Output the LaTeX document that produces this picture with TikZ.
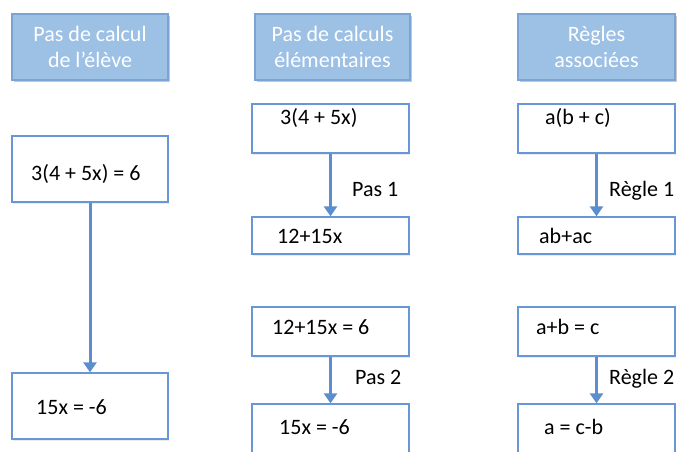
\documentclass[tikz,border=0pt]{standalone}
\usepackage{fontspec}
\setmainfont{Carlito}
\usetikzlibrary{arrows.meta,shadows}
\definecolor{hdrfill}{HTML}{9DC0E5}
\definecolor{hdrline}{HTML}{7BA3D6}
\definecolor{boxline}{HTML}{6797D6}
\definecolor{arrowc}{HTML}{5B8ECD}
\tikzset{
  hdr/.style={draw=hdrline, line width=1.2pt, fill=hdrfill, minimum width=156pt, minimum height=66pt,
    inner sep=0pt, align=center, text=white, font=\fontsize{22}{26.5}\selectfont,
    drop shadow={shadow xshift=1.5pt, shadow yshift=-2pt, opacity=0.35, fill=black!60}},
  ebox/.style={draw=boxline, line width=1.3pt, fill=white, minimum width=157pt, inner sep=0pt,
    drop shadow={shadow xshift=1pt, shadow yshift=-1.5pt, opacity=0.15, fill=black!50}},
  txt/.style={anchor=base west, inner sep=0pt, font=\fontsize{22}{26.5}\selectfont},
  flow/.style={draw=arrowc, line width=3pt, -{Triangle[width=13pt,length=10pt]}}
}
\begin{document}
\begin{tikzpicture}[x=1pt,y=-1pt]
\useasboundingbox (0,0) rectangle (677,452);
\clip (0,0) rectangle (677,452);
% headers
\node[hdr] (h1) at (90,47) {Pas de calcul\\de l’élève};
\node[hdr, minimum width=155pt] (h2) at (332.5,47) {Pas de calculs\\élémentaires};
\node[hdr, minimum width=157pt] (h3) at (596.5,47) {Règles\\associées};
% left column
\node[ebox, minimum width=156pt, minimum height=66pt] (e1) at (90,169) {};
\node[ebox, minimum width=156pt, minimum height=66pt] (e2) at (90,406) {};
\node[txt] (e1t) at (31,180) {3(4 + 5x) = 6};
\node[txt] (e2t) at (36,414) {15x = -6};
\draw[flow] (e1.south) -- (e2.north);
% middle column
\node[ebox, minimum height=49pt] (p1) at (330.5,128.5) {};
\node[ebox, minimum height=37pt] (p2) at (330.5,235.5) {};
\node[ebox, minimum height=49pt] (p3) at (330.5,331.5) {};
\node[ebox, minimum height=66pt] (p4) at (330.5,437) {};
\node[txt] (p1t) at (280,124) {3(4 + 5x)};
\node[txt] (p2t) at (277,243) {12+15x};
\node[txt] (p3t) at (272,334) {12+15x = 6};
\node[txt] (p4t) at (279,434) {15x = -6};
\draw[flow] (p1.south) -- (p2.north);
\draw[flow] (p3.south) -- (p4.north);
\node[txt] (pas1) at (352,196) {Pas 1};
\node[txt] (pas2) at (355,384) {Pas 2};
% right column
\node[ebox, minimum height=49pt] (r1) at (596.5,128.5) {};
\node[ebox, minimum height=37pt] (r2) at (596.5,235.5) {};
\node[ebox, minimum height=49pt] (r3) at (596.5,331.5) {};
\node[ebox, minimum height=66pt] (r4) at (596.5,437) {};
\node[txt] (r1t) at (545,124) {a(b + c)};
\node[txt] (r2t) at (539,243) {ab+ac};
\node[txt] (r3t) at (536,334) {a+b = c};
\node[txt] (r4t) at (544,434) {a = c-b};
\draw[flow] (r1.south) -- (r2.north);
\draw[flow] (r3.south) -- (r4.north);
\node[txt] (regle1) at (609,196) {Règle 1};
\node[txt] (regle2) at (609,384) {Règle 2};
\end{tikzpicture}
\end{document}
